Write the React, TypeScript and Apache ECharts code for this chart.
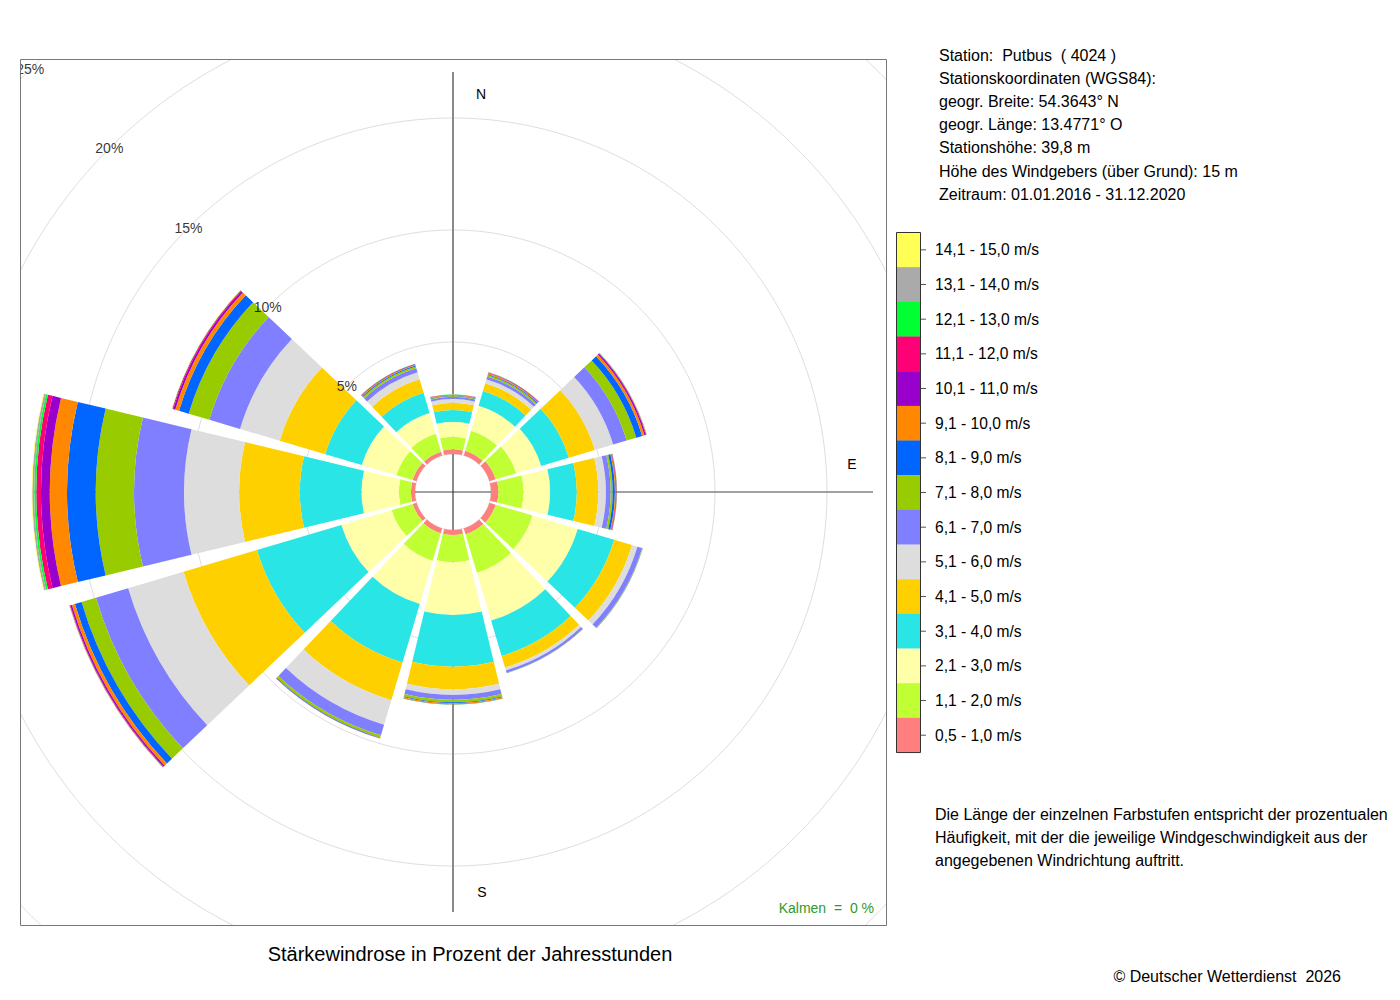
import React, { useEffect, useRef } from "react";
import * as echarts from "echarts";

// ---- data -------------------------------------------------------------
const directions = ["N", "30", "60", "E", "120", "150", "S", "210", "240", "W", "300", "330"];

const speedClasses = [
  "0,5 - 1,0 m/s", "1,1 - 2,0 m/s", "2,1 - 3,0 m/s", "3,1 - 4,0 m/s", "4,1 - 5,0 m/s",
  "5,1 - 6,0 m/s", "6,1 - 7,0 m/s", "7,1 - 8,0 m/s", "8,1 - 9,0 m/s", "9,1 - 10,0 m/s",
  "10,1 - 11,0 m/s", "11,1 - 12,0 m/s", "12,1 - 13,0 m/s", "13,1 - 14,0 m/s", "14,1 - 15,0 m/s",
];

const classColors = [
  "#FF7F7F", "#BFFF33", "#FFFFAA", "#2AE5E5", "#FFD000",
  "#DDDDDD", "#7F7FFF", "#99CC00", "#0066FF", "#FF8800",
  "#9900CC", "#FF0077", "#00FF33", "#AAAAAA", "#FFFF55",
];

// percentage of hours per direction (N, 30, 60, E, 120, 150, S, 210, 240, W, 300, 330)
const v0510 = [0.21, 0.22, 0.29, 0.33, 0.29, 0.27, 0.22, 0.22, 0.18, 0.18, 0.18, 0.18];
const v1120 = [0.56, 0.94, 0.96, 1.12, 1.72, 1.79, 1.22, 1.29, 0.98, 0.54, 0.76, 0.83];
const v2130 = [0.67, 1.16, 1.16, 1.19, 2.10, 2.23, 2.35, 2.01, 2.34, 1.67, 1.61, 0.97];
const v3140 = [0.52, 0.69, 1.29, 1.19, 1.70, 1.65, 2.31, 2.72, 3.93, 2.75, 1.70, 0.95];
const v4150 = [0.33, 0.36, 1.21, 0.96, 0.83, 0.54, 1.01, 1.76, 3.42, 2.71, 2.12, 0.62];
const v5160 = [0.17, 0.18, 0.85, 0.34, 0.25, 0.13, 0.25, 1.14, 2.58, 2.46, 1.85, 0.33];
const v6170 = [0.09, 0.13, 0.63, 0.21, 0.22, 0.11, 0.22, 0.49, 1.50, 2.23, 1.43, 0.18];
const v7180 = [0.04, 0.07, 0.45, 0.09, 0.02, 0.01, 0.11, 0.11, 0.67, 1.71, 0.96, 0.09];
const v8190 = [0.02, 0.04, 0.27, 0.10, 0.01, 0.01, 0.04, 0.02, 0.31, 1.28, 0.45, 0.04];
const v91100 = [0.03, 0.04, 0.11, 0.04, 0, 0, 0.04, 0.01, 0.14, 0.77, 0.18, 0.04];
const v101110 = [0.01, 0.02, 0.06, 0.02, 0, 0, 0.01, 0.005, 0.07, 0.39, 0.09, 0.02];
const v111120 = [0.01, 0.02, 0.03, 0.02, 0, 0, 0.01, 0.005, 0.03, 0.21, 0.04, 0.01];
const v121130 = [0.005, 0.01, 0.01, 0.01, 0, 0, 0.005, 0, 0.01, 0.09, 0.01, 0.01];
const v131140 = [0.005, 0.005, 0.01, 0.005, 0, 0, 0, 0, 0.01, 0.09, 0.01, 0.005];
const v141150 = [0, 0, 0.005, 0, 0, 0, 0, 0, 0.005, 0.03, 0.01, 0];

const classValues = [
  v0510, v1120, v2130, v3140, v4150, v5160, v6170, v7180,
  v8190, v91100, v101110, v111120, v121130, v131140, v141150,
];

const radiusTicks = [5, 10, 15, 20, 25];
const radiusTickAngle = 315;

const stationInfo = [
  "Station:  Putbus  ( 4024 )",
  "Stationskoordinaten (WGS84):",
  "geogr. Breite: 54.3643° N",
  "geogr. Länge: 13.4771° O",
  "Stationshöhe: 39,8 m",
  "Höhe des Windgebers (über Grund): 15 m",
  "Zeitraum: 01.01.2016 - 31.12.2020",
];

const description = [
  "Die Länge der einzelnen Farbstufen entspricht der prozentualen",
  "Häufigkeit, mit der die jeweilige Windgeschwindigkeit aus der",
  "angegebenen Windrichtung auftritt.",
];

const titleText = "Stärkewindrose in Prozent der Jahresstunden";
const calmText = "Kalmen  =  0 %";
const copyrightText = "© Deutscher Wetterdienst  2026";

// ---- layout ----------------------------------------------------------
const FONT = "'Liberation Sans', Arial, Helvetica, sans-serif";
const OFF = -8; // page offset compensation
const P = (v: number) => v + OFF;
const CX = P(453);
const CY = P(492);
const R_IN = 38;
const R_OUT = 598;
const BOX = { x: P(20), y: P(59), w: 866, h: 866 };

function txt(text: string, x: number, y: number, size: number, opts: any = {}) {
  return {
    type: "text",
    x: P(x),
    y: P(y),
    z: opts.z ?? 100,
    silent: true,
    style: {
      text,
      fill: opts.color ?? "#000",
      font: `${size}px ${FONT}`,
      fontSize: size,
      fontFamily: FONT,
      align: opts.align ?? "left",
      verticalAlign: "middle",
      textAlign: opts.align ?? "left",
      textVerticalAlign: "middle",
    },
  };
}

function buildOption() {
  const graphics: any[] = [];

  // cross axes (below the bars)
  graphics.push({
    type: "line", z: 1, silent: true,
    shape: { x1: CX, y1: P(72), x2: CX, y2: P(912) },
    style: { stroke: "#8a8a8a", lineWidth: 2 },
  });
  graphics.push({
    type: "line", z: 1, silent: true,
    shape: { x1: P(33), y1: CY, x2: P(873), y2: CY },
    style: { stroke: "#444", lineWidth: 1.2 },
  });

  // compass letters
  graphics.push(txt("N", 481, 94, 14, { align: "center", z: 5 }));
  graphics.push(txt("E", 852, 464, 14, { align: "center", z: 5 }));
  graphics.push(txt("S", 482, 892, 14, { align: "center", z: 5 }));

  // white masks outside the plot box
  const maskStyle = { fill: "#fff", stroke: null };
  const W = 1420;
  const H = 1020;
  graphics.push({ type: "rect", z: 50, silent: true, shape: { x: -20, y: -20, width: W, height: BOX.y + 20 }, style: maskStyle });
  graphics.push({ type: "rect", z: 50, silent: true, shape: { x: -20, y: BOX.y + BOX.h, width: W, height: H }, style: maskStyle });
  graphics.push({ type: "rect", z: 50, silent: true, shape: { x: -20, y: -20, width: BOX.x + 20, height: H }, style: maskStyle });
  graphics.push({ type: "rect", z: 50, silent: true, shape: { x: BOX.x + BOX.w, y: -20, width: W, height: H }, style: maskStyle });
  graphics.push({
    type: "rect", z: 60, silent: true,
    shape: { x: BOX.x + 0.5, y: BOX.y + 0.5, width: BOX.w, height: BOX.h },
    style: { fill: "none", stroke: "#777", lineWidth: 1 },
  });

  // station info
  stationInfo.forEach((line, i) => {
    graphics.push(txt(line, 939, 55 + i * 23.2, 16));
  });

  // colour legend
  const legTop = P(232.5);
  const cellH = 34.67;
  const legX = P(896);
  const legW = 24;
  const n = speedClasses.length;
  for (let k = 0; k < n; k++) {
    const ci = n - 1 - k;
    const y = legTop + k * cellH;
    graphics.push({
      type: "rect", z: 100, silent: true,
      shape: { x: legX, y, width: legW, height: cellH + 0.3 },
      style: { fill: classColors[ci], stroke: null },
    });
    graphics.push({
      type: "line", z: 100, silent: true,
      shape: { x1: legX + legW, y1: y + cellH / 2, x2: legX + legW + 6, y2: y + cellH / 2 },
      style: { stroke: "#555", lineWidth: 1 },
    });
    graphics.push(txt(speedClasses[ci], 935, y - OFF + cellH / 2, 15.6));
  }
  graphics.push({
    type: "rect", z: 101, silent: true,
    shape: { x: legX + 0.5, y: legTop, width: legW, height: cellH * n },
    style: { fill: "none", stroke: "#333", lineWidth: 1 },
  });

  // description
  description.forEach((line, i) => {
    graphics.push(txt(line, 935, 814 + i * 23.2, 16));
  });

  graphics.push(txt(calmText, 874, 908, 14, { align: "right", color: "#2E9A2E" }));
  graphics.push(txt(titleText, 470, 954, 20, { align: "center" }));
  graphics.push(txt(copyrightText, 1341, 976, 16, { align: "right" }));

  const barSeries = speedClasses.map((name, i) => ({
    type: "bar",
    name,
    coordinateSystem: "polar",
    polarIndex: 0,
    stack: "rose",
    data: classValues[i],
    barCategoryGap: "10%",
    silent: true,
    z: 2,
    itemStyle: { color: classColors[i], borderWidth: 0 },
  }));

  return {
    animation: false,
    backgroundColor: "#ffffff",
    polar: [
      { center: [CX, CY], radius: [R_IN, R_OUT] },
      { center: [CX, CY], radius: [R_IN, R_OUT] },
    ],
    angleAxis: [
      {
        polarIndex: 0,
        type: "category",
        data: directions,
        startAngle: 105,
        clockwise: true,
        boundaryGap: true,
        axisLine: { show: false },
        axisTick: { show: false },
        axisLabel: { show: false },
        splitLine: { show: false },
        splitArea: { show: false },
      },
      {
        polarIndex: 1,
        type: "value",
        min: 0,
        max: 360,
        startAngle: 90,
        clockwise: true,
        axisLine: { show: false },
        axisTick: { show: false },
        axisLabel: { show: false },
        splitLine: { show: false },
        splitArea: { show: false },
      },
    ],
    radiusAxis: [
      {
        polarIndex: 0,
        type: "value",
        min: 0,
        max: 25,
        interval: 5,
        axisLine: { show: false },
        axisTick: { show: false },
        axisLabel: { show: false },
        splitLine: { show: true, lineStyle: { color: "#dedede", width: 1 } },
        splitArea: { show: false },
      },
      {
        polarIndex: 1,
        type: "value",
        min: 0,
        max: 25,
        interval: 5,
        axisLine: { show: false },
        axisTick: { show: false },
        axisLabel: { show: false },
        splitLine: { show: false },
        splitArea: { show: false },
      },
    ],
    tooltip: { show: false },
    series: [
      ...barSeries,
      {
        type: "scatter",
        coordinateSystem: "polar",
        polarIndex: 1,
        data: radiusTicks.map((r) => [r, radiusTickAngle]),
        symbolSize: 1,
        silent: true,
        z: 3,
        itemStyle: { color: "rgba(0,0,0,0)" },
        label: {
          show: true,
          position: "inside",
          formatter: (p: any) => `${p.value[0]}%`,
          color: "#000",
          fontSize: 14,
          fontFamily: FONT,
        },
      },
    ],
    graphic: { elements: graphics },
  };
}

export default function App() {
  const ref = useRef<HTMLDivElement>(null);
  useEffect(() => {
    if (!ref.current) return;
    const chart = echarts.init(ref.current, null, { renderer: "svg" });
    chart.setOption(buildOption() as any);
    return () => chart.dispose();
  }, []);
  return (
    <div
      ref={ref}
      style={{ position: "fixed", left: 0, top: 0, width: 1400, height: 1000, background: "#fff" }}
    />
  );
}
